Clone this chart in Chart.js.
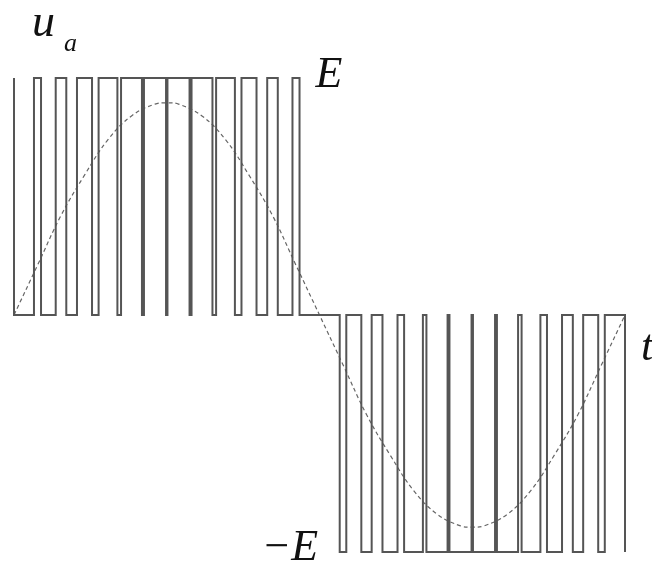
<!DOCTYPE html>
<html>
<head>
<meta charset="utf-8">
<script src="https://cdn.jsdelivr.net/npm/chart.js@4"></script>
<style>
  html, body { margin: 0; padding: 0; background: #fff; }
  #wrap { width: 652px; height: 563px; }
</style>
</head>
<body>
<div id="wrap"><canvas id="pwm"></canvas></div>
<script>
// Unipolar SPWM phase voltage: one fundamental cycle = 26 carrier periods
const CYCLE = 26
const posCenters = [1, 2, 3, 4, 5, 6, 7, 8, 9, 10, 11, 12]
const posWidths = [0.3, 0.45, 0.64, 0.8, 0.89, 0.94, 0.94, 0.89, 0.8, 0.64, 0.45, 0.3]
const negCenters = [14, 15, 16, 17, 18, 19, 20, 21, 22, 23, 24, 25]
const negWidths = [0.28, 0.44, 0.64, 0.8, 0.9, 0.94, 0.94, 0.9, 0.8, 0.64, 0.44, 0.28]

// modulating wave, sampled once per carrier period (in units of E)
const sineT = [0, 1, 2, 3, 4, 5, 6, 6.5, 7, 8, 9, 10, 11, 12, 13, 14, 15, 16, 17, 18, 19, 19.5, 20, 21, 22, 23, 24, 25, 26]
const sineV = [0, 0.21, 0.42, 0.59, 0.74, 0.84, 0.89, 0.895, 0.89, 0.84, 0.74, 0.59, 0.42, 0.21, 0,
  -0.21, -0.42, -0.59, -0.74, -0.84, -0.89, -0.895, -0.89, -0.84, -0.74, -0.59, -0.42, -0.21, 0]

function pulseTrain(centers, widths, level) {
  const pts = []
  centers.forEach((c, i) => {
    const a = c - widths[i] / 2
    const b = c + widths[i] / 2
    pts.push({ x: a, y: 0 }, { x: a, y: level }, { x: b, y: level }, { x: b, y: 0 })
  })
  return pts
}

const wave = [
  { x: 0, y: 1 }, { x: 0, y: 0 },
  ...pulseTrain(posCenters, posWidths, 1),
  ...pulseTrain(negCenters, negWidths, -1),
  { x: CYCLE, y: 0 }, { x: CYCLE, y: -1 },
]
const sine = sineT.map((t, i) => ({ x: t, y: sineV[i] }))

// axis letters drawn straight onto the canvas
const labels = {
  id: 'labels',
  afterDraw(chart) {
    const { ctx, scales: { x, y } } = chart
    ctx.save()
    ctx.fillStyle = '#111'
    ctx.textBaseline = 'alphabetic'
    ctx.font = 'italic 46px "Liberation Serif", serif'
    ctx.fillText('u', x.getPixelForValue(0) + 18, 36)
    ctx.font = 'italic 26px "Liberation Serif", serif'
    ctx.fillText('a', x.getPixelForValue(0) + 50, 51)
    ctx.font = 'italic 44px "Liberation Serif", serif'
    ctx.fillText('E', x.getPixelForValue(CYCLE / 2) - 4, y.getPixelForValue(1) + 9)
    ctx.fillText('t', x.getPixelForValue(CYCLE) + 16, y.getPixelForValue(0) + 45)
    ctx.fillText('\u2212E', x.getPixelForValue(CYCLE / 2) - 58, y.getPixelForValue(-1) + 8)
    ctx.restore()
  },
}

new Chart(document.getElementById('pwm'), {
  type: 'line',
  data: {
    datasets: [
      { data: wave, borderColor: '#555', borderWidth: 2, pointRadius: 0, tension: 0, clip: false },
      { data: sine, borderColor: '#666', borderWidth: 1.2, borderDash: [4, 3], pointRadius: 0, tension: 0.4, clip: false },
    ],
  },
  options: {
    responsive: true,
    maintainAspectRatio: false,
    animation: false,
    layout: { padding: { left: 14, right: 27, top: 78, bottom: 11 } },
    plugins: { legend: { display: false }, tooltip: { enabled: false } },
    scales: {
      x: { type: 'linear', min: 0, max: CYCLE, display: false },
      y: { min: -1, max: 1, display: false },
    },
  },
  plugins: [labels],
})
</script>
</body>
</html>
